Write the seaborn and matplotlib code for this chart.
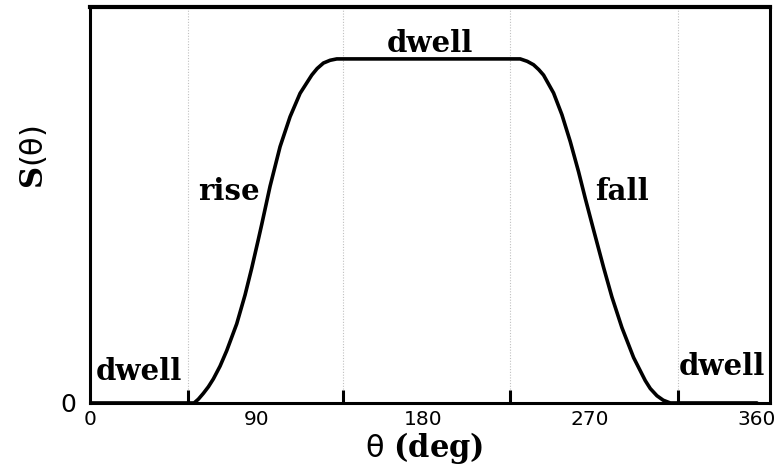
import matplotlib
matplotlib.use("Agg")
import matplotlib.pyplot as plt
import seaborn as sns
import pandas as pd

# Follower displacement S(theta), normalised to the full lift
theta = [0.0, 56.2, 58.5, 61.2, 63.9, 66.6, 70.2, 73.8, 79.2, 83.7, 87.3, 90.9,
         92.7, 97.2, 102.6, 108.0, 113.4, 119.7, 122.6, 126.0, 129.6, 133.2,
         232.2, 236.0, 239.4, 242.2, 244.8, 250.2, 254.7, 259.2, 263.7, 267.3,
         271.8, 277.2, 281.7, 287.1, 293.4, 299.7, 302.4, 306.0, 309.4, 313.2,
         360.0]
lift = [0.0, 0.0, 0.011, 0.028, 0.047, 0.070, 0.107, 0.152, 0.230, 0.314, 0.392,
        0.476, 0.519, 0.630, 0.745, 0.832, 0.900, 0.953, 0.972, 0.988, 0.996,
        1.0,
        1.0, 0.993, 0.983, 0.969, 0.953, 0.901, 0.838, 0.760, 0.672, 0.595,
        0.503, 0.394, 0.308, 0.219, 0.132, 0.065, 0.042, 0.021, 0.008, 0.0,
        0.0]

# Phase boundaries (deg) and phase annotations
boundaries = [52.9, 136.6, 226.8, 317.5]
phase_labels = ["dwell", "rise", "dwell", "fall", "dwell"]
phase_x = [26.5, 75.1, 183.6, 287.3, 341.3]
phase_y = [0.067, 0.590, 1.020, 0.590, 0.081]

tick_values = [0, 90, 180, 270, 360]
tick_labels = ["0", "90", "180", "270", "360"]

sns.set_style("white")
plt.rcParams["font.family"] = ["DejaVu Serif"]
plt.rcParams["mathtext.fontset"] = "custom"
plt.rcParams["mathtext.it"] = "DejaVu Sans"
plt.rcParams["mathtext.rm"] = "DejaVu Sans"
plt.rcParams["mathtext.bf"] = "DejaVu Serif:bold"
for key in ["text.color", "axes.labelcolor", "xtick.color", "ytick.color",
            "axes.edgecolor"]:
    plt.rcParams[key] = "black"

fig = plt.figure(figsize=(7.79, 4.70), dpi=100)
ax = fig.add_axes([0.1155, 0.1426, 0.8729, 0.8426])

df = pd.DataFrame({"theta": theta, "S": lift})
sns.lineplot(data=df, x="theta", y="S", ax=ax, color="black", linewidth=2.6,
             sort=False, estimator=None, solid_joinstyle="round",
             solid_capstyle="round")

ax.set_xlim(0, 367)
ax.set_ylim(0, 1.151)

# Short inward ticks and dotted guides at the phase boundaries
ax.set_xticks(boundaries)
ax.set_xticklabels([])
ax.tick_params(axis="x", which="major", direction="in", length=9.5, width=2.2,
               color="black", bottom=True, top=False)
ax.grid(False)
ax.xaxis.grid(True, which="major", linestyle=(0, (1, 1.5)), color="#c0c0c0",
              linewidth=0.8)
ax.set_axisbelow(True)

# Angle labels
ax.set_xticks(tick_values, minor=True)
ax.set_xticklabels(tick_labels, minor=True, fontfamily="DejaVu Sans",
                   fontsize=14.5)
ax.tick_params(axis="x", which="minor", length=0, pad=5, bottom=True)

ax.set_yticks([0])
ax.set_yticklabels(["0"], fontfamily="DejaVu Sans", fontsize=18)
ax.tick_params(axis="y", length=0, pad=10, left=True)

for side in ["left", "bottom", "right"]:
    ax.spines[side].set_linewidth(2.2)
ax.spines["top"].set_linewidth(3.0)

ax.set_xlabel(r"$\theta$ $\mathbf{(deg)}$", fontsize=22)
ax.xaxis.set_label_coords(0.491, -0.068)
ax.set_ylabel(r"$\mathbf{S}(\theta)$", fontsize=22)
ax.yaxis.set_label_coords(-0.059, 0.62)

for label, x, y in zip(phase_labels, phase_x, phase_y):
    ax.text(x, y, label, ha="center", va="baseline", fontsize=21,
            fontweight="bold")

fig.savefig("out.png", dpi=100)
